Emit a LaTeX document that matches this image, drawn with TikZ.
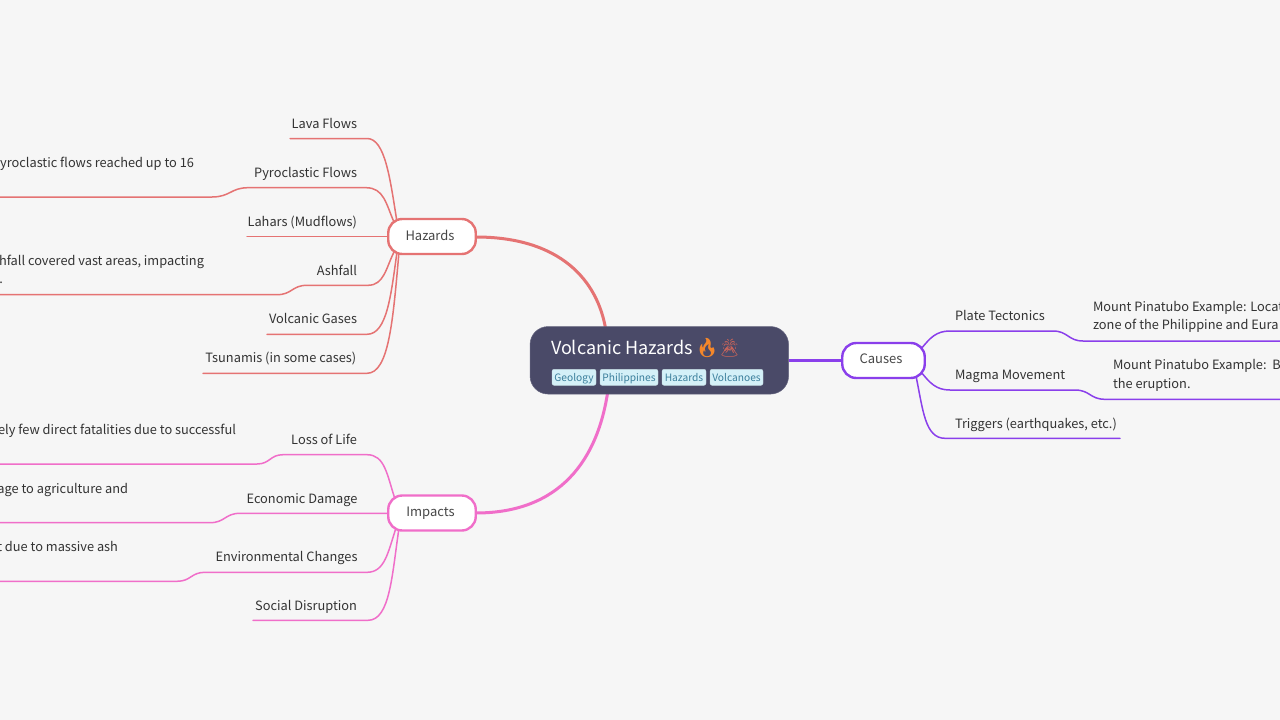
\documentclass[tikz,border=0pt]{standalone}
\usepackage{fontspec}
\setmainfont{Noto Sans CJK SC}
\newfontfamily\emojifont{Noto Emoji}
\usetikzlibrary{backgrounds}
\definecolor{pagebg}{HTML}{F6F6F6}
\definecolor{hazc}{HTML}{E57373}
\definecolor{impc}{HTML}{F06EC9}
\definecolor{cauc}{HTML}{8A3FEB}
\definecolor{rootc}{HTML}{4A4A68}
\definecolor{txtc}{HTML}{333333}
\definecolor{tagf}{HTML}{D4F0F8}
\definecolor{tagt}{HTML}{3B7F9C}
\definecolor{flamec}{HTML}{F5872A}
\definecolor{volc}{HTML}{C8645A}
\tikzset{
  x=1pt,y=-1pt,
  every node/.style={inner sep=0pt,outer sep=0pt,font=\fontsize{12.8}{16}\selectfont,text=txtc},
  leaf/.style={anchor=base east},
  rleaf/.style={anchor=base west},
  topic/.style={draw,line width=2.4pt,fill=white,rounded corners=14pt},
  topicname/.style={anchor=base,font=\fontsize{13}{16}\selectfont,text=txtc!90},
  tag/.style={fill=tagf,draw=tagf!80!gray,line width=.4pt,rounded corners=2pt,minimum height=16pt,text height=9pt,text depth=1pt,font=\fontsize{10.2}{12}\selectfont,text=tagt},
  branch/.style={line width=1.5pt,line cap=round},
  hz/.style={branch,hazc},
  im/.style={branch,impc},
  ca/.style={branch,cauc},
}
\begin{document}
\begin{tikzpicture}
\useasboundingbox (0,0) rectangle (1280,720);
% root and main topics
\node[fill=rootc,draw=rootc!85!white,line width=.5pt,rounded corners=18pt,minimum width=258.5pt,minimum height=67.5pt] (root) at (659.3,360.3) {};
\node[anchor=base west,font=\fontsize{18}{24}\selectfont,text=white] (title) at (551,354) {Volcanic Hazards};
\node[anchor=base west,font=\emojifont\fontsize{19}{24}\selectfont,text=flamec] (flame) at (695,354) {🔥};
\node[anchor=base west,font=\emojifont\fontsize{18}{24}\selectfont,text=volc] (volcano) at (718,354) {🌋};
\node[tag,minimum width=44pt] (t1) at (574,377.3) {Geology};
\node[tag,minimum width=58pt] (t2) at (629,377.3) {Philippines};
\node[tag,minimum width=44pt] (t3) at (684,377.3) {Hazards};
\node[tag,minimum width=53pt] (t4) at (736.5,377.3) {Volcanoes};
\node[topic,draw=hazc,minimum width=87.5pt,minimum height=35pt] (haz) at (432,236.5) {};
\node[topic,draw=impc,minimum width=87.5pt,minimum height=35pt] (imp) at (432,513) {};
\node[topic,draw=cauc,minimum width=82.5pt,minimum height=35pt] (cau) at (883.5,360.5) {};
\node[topicname] (hazt) at (430,240) {Hazards};
\node[topicname] (impt) at (430.5,516.3) {Impacts};
\node[topicname] (caut) at (881,363) {Causes};
% hazards leaves
\node[leaf] (lava) at (357,128) {Lava Flows};
\node[leaf] (pyro) at (357,177) {Pyroclastic Flows};
\node[leaf] (pyrod) at (194,167.5) {yroclastic flows reached up to 16};
\node[leaf] (lahar) at (357,226) {Lahars (Mudflows)};
\node[leaf] (ash) at (357,275) {Ashfall};
\node[leaf] (ashd) at (204,265) {hfall covered vast areas, impacting};
\node[leaf] (ashe) at (3,283) {.};
\node[leaf] (gas) at (357,323.5) {Volcanic Gases};
\node[leaf] (tsu) at (356.3,362.7) {Tsunamis (in some cases)};
% impacts leaves
\node[leaf] (loss) at (357,444) {Loss of Life};
\node[leaf] (lossd) at (236,434) {ely few direct fatalities due to successful};
\node[leaf] (econ) at (357.5,503) {Economic Damage};
\node[leaf] (econd) at (128,493) {age to agriculture and};
\node[leaf] (env) at (357.5,561.4) {Environmental Changes};
\node[leaf] (envd) at (118,551.6) {t due to massive ash};
\node[leaf] (soc) at (357,610) {Social Disruption};
% causes leaves
\node[rleaf] (plate) at (955,320.6) {Plate Tectonics};
\node[rleaf] (plated) at (1093,311) {Mount Pinatubo Example: Locat};
\node[rleaf] (platee) at (1093,329) {zone of the Philippine and Eura};
\node[rleaf] (magma) at (955,379.5) {Magma Movement};
\node[rleaf] (magmad) at (1113,369.5) {Mount Pinatubo Example:\ \ B};
\node[rleaf] (magmae) at (1113,388) {the eruption.};
\node[rleaf] (trig) at (955,428) {Triggers (earthquakes, etc.)};
% free ends of the connectors
\coordinate (lavaE) at (290,138.5);
\coordinate (pyroE) at (-5,197);
\coordinate (lahE) at (247,236.3);
\coordinate (ashE) at (-5,294.7);
\coordinate (gasE) at (267,334.3);
\coordinate (tsuE) at (203,373.3);
\coordinate (lossE) at (-5,464);
\coordinate (econE) at (-5,522.7);
\coordinate (envE) at (-5,581.3);
\coordinate (socE) at (253,620.3);
\coordinate (plateE) at (1285,341);
\coordinate (magmaE) at (1285,399.3);
\coordinate (trigE) at (1120,438.3);
\begin{scope}[on background layer]
\fill[pagebg] (0,0) rectangle (1280,720);
\draw[hazc,line width=3pt] (haz.east|-0,237) .. controls (560,237) and (598,280) .. (606,331);
\draw[impc,line width=3pt] (imp.east|-0,513) .. controls (560,513) and (598,460) .. (608,390);
\draw[cauc,line width=3pt] (root.east|-0,360) -- (cau.west|-0,360);
% hazards branches
\draw[hz] (397,222) .. controls (390,178) and (385,138.5) .. (367,138.5) -- (lavaE);
\draw[hz] (394,222) .. controls (386,204) and (384,187.7) .. (366,187.7) -- (248,187.7) .. controls (231,187.7) and (230,197) .. (212,197) -- (pyroE);
\draw[hz] (haz.west|-0,236.3) -- (lahE);
\draw[hz] (394,252) .. controls (386,268) and (384,285.3) .. (368,285.3) -- (307,285.3) .. controls (292,285.3) and (292,294.7) .. (277,294.7) -- (ashE);
\draw[hz] (397,252) .. controls (391,295) and (387,334.3) .. (367,334.3) -- (gasE);
\draw[hz] (399,252) .. controls (393,320) and (389,373.3) .. (367,373.3) -- (tsuE);
% impacts branches
\draw[im] (395,499) .. controls (387,475) and (385,454.7) .. (367,454.7) -- (283,454.7) .. controls (270,454.7) and (270,464) .. (257,464) -- (lossE);
\draw[im] (imp.west|-0,513.3) -- (240,513.3) .. controls (225,513.3) and (225,522.7) .. (210,522.7) -- (econE);
\draw[im] (396,528) .. controls (388,552) and (385,572.3) .. (367,572.3) -- (205,572.3) .. controls (191,572.3) and (191,581.3) .. (177,581.3) -- (envE);
\draw[im] (399,528) .. controls (392,575) and (390,620.3) .. (368,620.3) -- (socE);
% causes branches
\draw[ca] (921,349) .. controls (930,338) and (936,331) .. (950,331) -- (1053,331) .. controls (1068,331) and (1068,341) .. (1083,341) -- (plateE);
\draw[ca] (921,372) .. controls (930,383) and (936,390) .. (950,390) -- (1075,390) .. controls (1090,390) and (1090,399.3) .. (1105,399.3) -- (magmaE);
\draw[ca] (916,376) .. controls (923,410) and (925,438.3) .. (945,438.3) -- (trigE);
\end{scope}
\end{tikzpicture}
\end{document}
